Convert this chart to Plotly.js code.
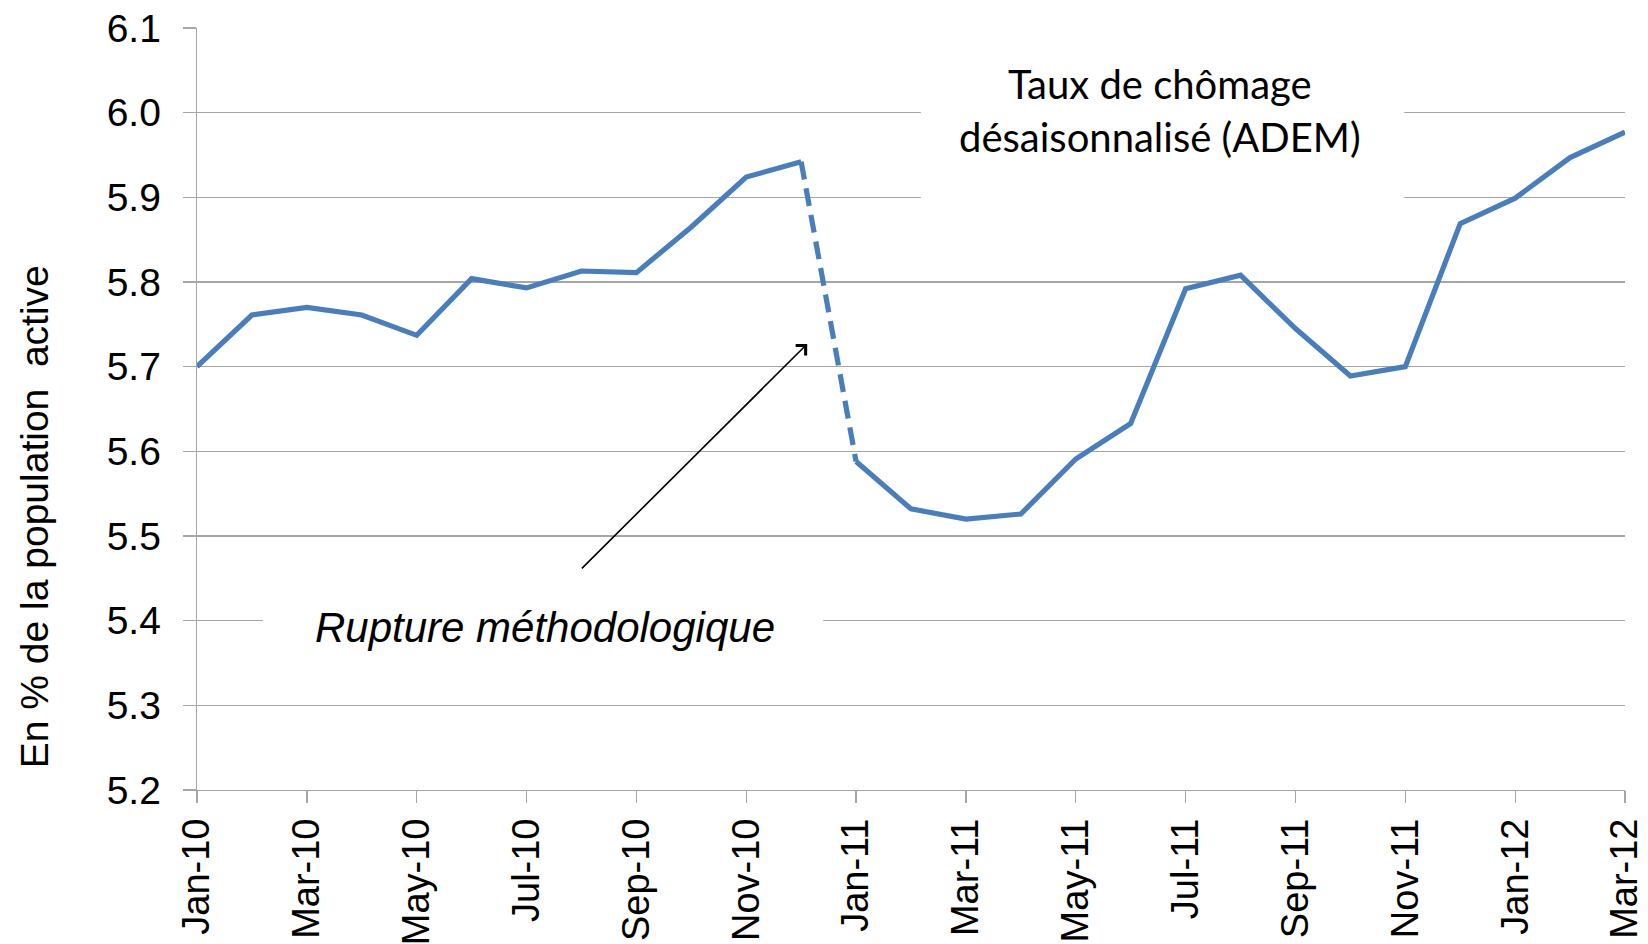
<!DOCTYPE html>
<html>
<head>
<meta charset="utf-8">
<script src="https://cdn.plot.ly/plotly-3.0.1.min.js"></script>
<style>
html,body{margin:0;padding:0;background:#fff;}
#chart{width:1648px;height:944px;}
</style>
</head>
<body>
<div id="chart"></div>
<script>
// Months (category axis)
const months = ["Jan-10","Feb-10","Mar-10","Apr-10","May-10","Jun-10","Jul-10","Aug-10","Sep-10","Oct-10","Nov-10","Dec-10",
                "Jan-11","Feb-11","Mar-11","Apr-11","May-11","Jun-11","Jul-11","Aug-11","Sep-11","Oct-11","Nov-11","Dec-11",
                "Jan-12","Feb-12","Mar-12"];
// Taux de chômage désaisonnalisé (ADEM), en %
const rate = [5.700,5.761,5.770,5.761,5.737,5.804,5.793,5.813,5.811,5.865,5.924,5.942,
              5.588,5.532,5.520,5.526,5.591,5.633,5.792,5.808,5.745,5.689,5.700,5.869,
              5.899,5.947,5.977];
// Index of last month before the methodological break
const breakIdx = 11;
// Tick labels shown on the x axis
const xTicks = ["Jan-10","Mar-10","May-10","Jul-10","Sep-10","Nov-10","Jan-11","Mar-11","May-11","Jul-11","Sep-11","Nov-11","Jan-12","Mar-12"];
const yTicks = [5.2,5.3,5.4,5.5,5.6,5.7,5.8,5.9,6.0,6.1];

const lineColor = "#4a7ebb";
const lw = 5.2;

const before = {x: months.slice(0, breakIdx+1), y: rate.slice(0, breakIdx+1), mode:"lines",
  line:{color:lineColor, width:lw}, hoverinfo:"x+y", showlegend:false};
const gap = {x: months.slice(breakIdx, breakIdx+2), y: rate.slice(breakIdx, breakIdx+2), mode:"lines",
  line:{color:lineColor, width:lw, dash:"18px,9px"}, hoverinfo:"x+y", showlegend:false};
const after = {x: months.slice(breakIdx+1), y: rate.slice(breakIdx+1), mode:"lines",
  line:{color:lineColor, width:lw}, hoverinfo:"x+y", showlegend:false};

const gridColor = "#a6a6a6";
const arial = "Liberation Sans, Arial, sans-serif";
const yTickFont = {family:arial, size:39, color:"#000"};
const xTickFont = {family:arial, size:38, color:"#000"};

const layout = {
  width:1648, height:944,
  margin:{l:197, r:23, t:28, b:154, pad:0},
  paper_bgcolor:"#fff", plot_bgcolor:"#fff",
  showlegend:false,
  xaxis:{
    type:"category", categoryorder:"array", categoryarray: months,
    range:[0, months.length-1],
    tickmode:"array", tickvals:xTicks, ticktext:xTicks,
    tickangle:-90, tickfont:xTickFont,
    ticks:"outside", ticklen:12, tickcolor:gridColor, tickwidth:1.3,
    ticklabelstandoff:0,
    showgrid:false, showline:true, linecolor:gridColor, linewidth:1.3,
    zeroline:false, fixedrange:true
  },
  yaxis:{
    range:[5.2, 6.1],
    tickmode:"array", tickvals:yTicks, ticktext:yTicks.map(v=>v.toFixed(1)),
    tickfont:yTickFont,
    ticks:"outside", ticklen:13, tickcolor:gridColor, tickwidth:1.3,
    ticklabelstandoff:14,
    showgrid:true, gridcolor:gridColor, gridwidth:1.3,
    showline:true, linecolor:gridColor, linewidth:1.3,
    zeroline:false, fixedrange:true
  },
  shapes:[
    {type:"rect", xref:"x", yref:"y", x0:1.20, x1:11.40, y0:5.36, y1:5.44, fillcolor:"#fff", line:{width:0}, layer:"between"},
    {type:"rect", xref:"x", yref:"y", x0:13.18, x1:21.98, y0:5.86, y1:6.04, fillcolor:"#fff", line:{width:0}, layer:"between"}
  ],
  annotations:[
    {xref:"paper", yref:"y", x:-0.1142, y:5.5233, text:"En % de la population\u00a0 active", textangle:-90, showarrow:false,
     xanchor:"center", yanchor:"middle", font:{family:arial, size:39, color:"#000"}},
    {xref:"paper", yref:"y", x:0.6745, y:6.0335, text:"Taux de chômage", showarrow:false,
     xanchor:"center", yanchor:"middle", font:{family:"Lato, Open Sans, sans-serif", size:40, color:"#000"}},
    {xref:"paper", yref:"y", x:0.6745, y:5.9714, text:"désaisonnalisé (ADEM)", showarrow:false,
     xanchor:"center", yanchor:"middle", font:{family:"Lato, Open Sans, sans-serif", size:40, color:"#000"}},
    {xref:"paper", yref:"y", x:0.2435, y:5.3917, text:"<i>Rupture méthodologique</i>", showarrow:false,
     xanchor:"center", yanchor:"middle", font:{family:arial, size:42, color:"#000"}},
    {xref:"x", yref:"y", axref:"x", ayref:"y", x:11.11, y:5.7268, ax:6.98, ay:5.46, text:"",
     showarrow:true, arrowhead:4, arrowsize:1.7, arrowwidth:1.6, arrowcolor:"#000", standoff:0, startstandoff:0}
  ]
};

Plotly.newPlot("chart", [before, gap, after], layout, {displayModeBar:false, staticPlot:true});
</script>
</body>
</html>
